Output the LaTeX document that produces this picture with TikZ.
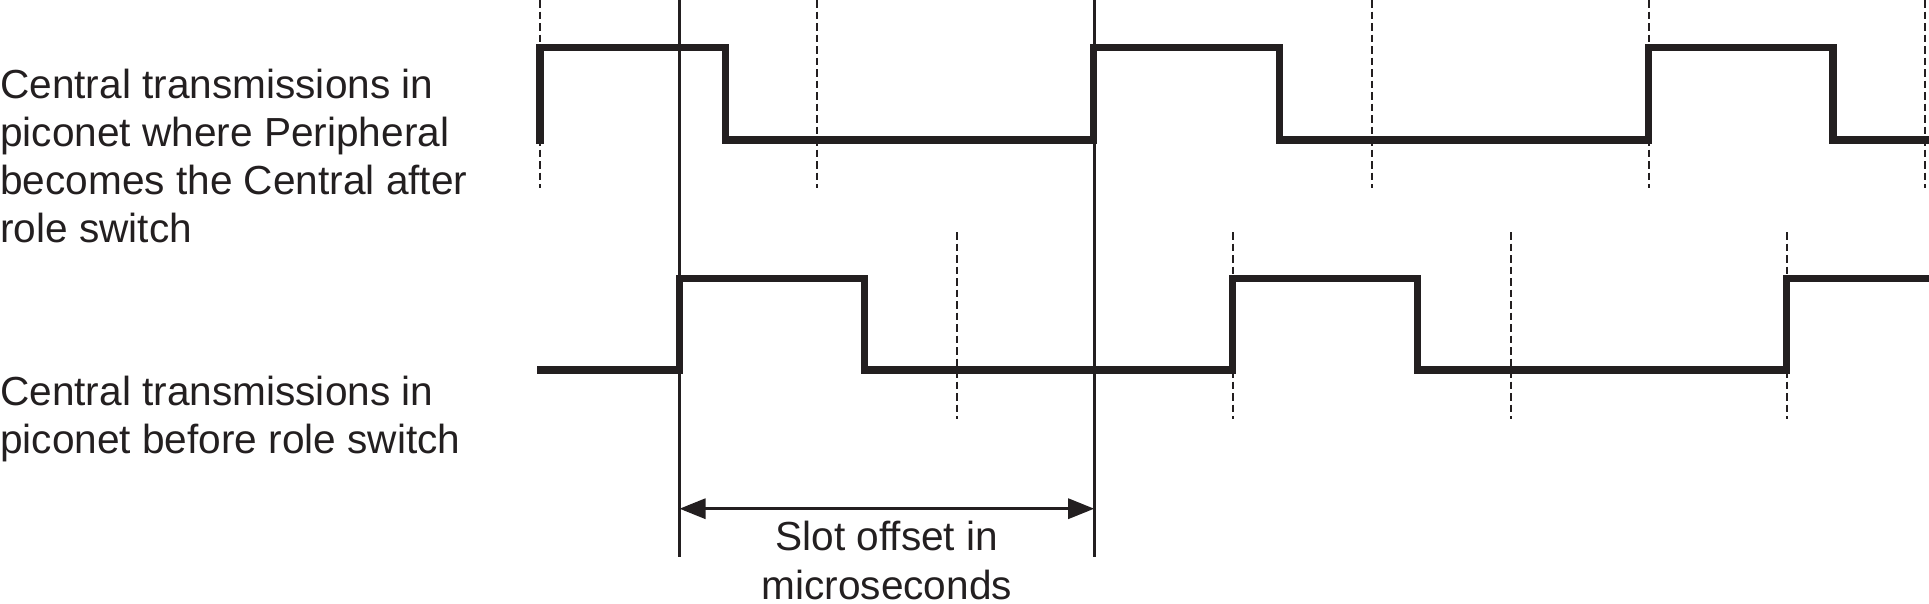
\documentclass[tikz,border=0pt]{standalone}
\usepackage{fontspec}
\setmainfont{Liberation Sans}
\usetikzlibrary{arrows.meta}
\definecolor{ink}{HTML}{231F20}
\begin{document}
\begin{tikzpicture}[x=1pt,y=-1pt,
  wave/.style={draw=ink,line width=7.2pt,line join=miter},
  slotdash/.style={draw=ink,line width=2pt,dash pattern=on 7.5pt off 4pt},
  marker/.style={draw=ink,line width=3.2pt},
  dim/.style={draw=ink,line width=3.2pt,{Triangle[length=26pt,width=20pt]}-{Triangle[length=26pt,width=20pt]}},
  lbl/.style={font=\fontsize{40.6}{48.3}\selectfont,text=ink,inner sep=0pt,align=left,anchor=base west},
  captext/.style={font=\fontsize{40.6}{48.3}\selectfont,text=ink,inner sep=0pt,align=center,anchor=base}]
\useasboundingbox (0,0) rectangle (1929,603);
% slot boundary dashed lines (top)
\foreach \x in {540,816.8,1371.7,1648.5,1925}
  \draw[slotdash] (\x,0) -- (\x,188);
% slot boundary dashed lines (bottom)
\foreach \x in {957.1,1232.5,1510.7,1786.5}
  \draw[slotdash] (\x,232) -- (\x,419);
% solid marker lines
\coordinate (mAt) at (679.5,0);
\coordinate (mAb) at (679.5,556.5);
\coordinate (mBt) at (1094.2,0);
\coordinate (mBb) at (1094.2,556.5);
\draw[marker] (mAt) -- (mAb);
\draw[marker] (mBt) -- (mBb);
% top wave
\draw[wave] (540,143.6) -- (540,47.5) -- (725.8,47.5) -- (725.8,140) -- (1093.8,140) -- (1093.8,47.5)
  -- (1279.4,47.5) -- (1279.4,140) -- (1648.5,140) -- (1648.5,47.5) -- (1833,47.5) -- (1833,140) -- (1935,140);
% bottom wave
\draw[wave] (537,370) -- (679.3,370) -- (679.3,278.5) -- (864.8,278.5) -- (864.8,370) -- (1232.5,370)
  -- (1232.5,278.5) -- (1417.2,278.5) -- (1417.2,370) -- (1786.5,370) -- (1786.5,278.5) -- (1935,278.5);
% dimension arrow
\coordinate (arL) at (679.5,508.7);
\coordinate (arR) at (1094.2,508.7);
\draw[dim] (arL) -- (arR);
\node[captext] (offs) at (886.8,599) {Slot offset in\\microseconds};
% labels
\node[lbl] (lblA) at (0,242.9) {Central transmissions in\\piconet where Peripheral\\becomes the Central after\\role switch};
\node[lbl] (lblB) at (0,453.3) {Central transmissions in\\piconet before role switch};
\end{tikzpicture}
\end{document}
